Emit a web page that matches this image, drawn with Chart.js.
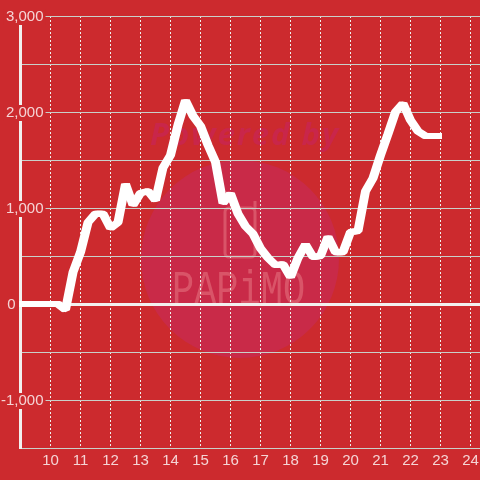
<!DOCTYPE html>
<html>
<head>
<meta charset="utf-8">
<style>
  html, body { margin: 0; padding: 0; background: #cc2a2e; }
  canvas { display: block; }
</style>
<script src="https://cdn.jsdelivr.net/npm/chart.js@4"></script>
</head>
<body>
<canvas id="chart" width="480" height="480"></canvas>
<script>
const hours = [
    9, 9.25, 9.5, 9.75, 10, 10.25, 10.5, 10.75,
    11, 11.25, 11.5, 11.75, 12, 12.25, 12.5, 12.75,
    13, 13.25, 13.5, 13.75, 14, 14.25, 14.5, 14.75,
    15, 15.25, 15.5, 15.75, 16, 16.25, 16.5, 16.75,
    17, 17.25, 17.5, 17.75, 18, 18.25, 18.5, 18.75,
    19, 19.25, 19.5, 19.75, 20, 20.25, 20.5, 20.75,
    21, 21.25, 21.5, 21.75, 22, 22.25, 22.5, 22.75, 23,
];
const values = [
    0, 0, 0, 0, 0, 0, -60, 330,
    540, 850, 940, 940, 790, 850, 1250, 1030,
    1155, 1175, 1080, 1420, 1550, 1865, 2120, 1960,
    1855, 1655, 1480, 1050, 1150, 940, 810, 730,
    580, 480, 405, 415, 280, 480, 620, 490,
    500, 700, 540, 540, 750, 760, 1175, 1310,
    1550, 1770, 2000, 2090, 1915, 1800, 1750, 1750, 1750,
];
const labelledTicks = [3000, 2000, 1000, 0, -1000];

const bgColor = '#cc2a2e';
const textColor = 'rgba(255,255,255,0.8)';

// watermark sits under the grid
const watermark = {
    id: 'watermark',
    beforeDraw(chart) {
        const ctx = chart.ctx;
        ctx.save();
        ctx.fillStyle = bgColor;
        ctx.fillRect(0, 0, chart.width, chart.height);

        ctx.fillStyle = '#c92a48';
        ctx.beginPath();
        ctx.arc(240, 259, 99, 0, Math.PI * 2);
        ctx.fill();

        ctx.fillStyle = '#c9264a';
        ctx.font = 'italic bold 31px "Open Sans"';
        ctx.letterSpacing = '2px';
        ctx.textAlign = 'left';
        ctx.fillText('Powered by', 150, 145);
        ctx.letterSpacing = '0px';

        ctx.strokeStyle = '#d95468';
        ctx.lineWidth = 3;
        ctx.beginPath();
        ctx.roundRect(225, 208, 30, 49, 4);
        ctx.moveTo(255, 208);
        ctx.lineTo(255, 201);
        ctx.stroke();

        ctx.fillStyle = '#d95468';
        ctx.translate(172, 304);
        ctx.scale(0.77, 1);
        ctx.font = '48px "Liberation Mono"';
        ctx.fillText('PAPiMO', 0, 0);
        ctx.restore();

        // y labels sit a pixel lower than Chart.js puts them
        chart.scales.y.getLabelItems().forEach((item) => {
            item.options.translation[1] += 1;
        });
    },
};

// the original pen is wider than it is tall, so stroke the line again either side
const widePen = {
    id: 'widePen',
    afterDatasetsDraw(chart) {
        const line = chart.getDatasetMeta(0).dataset;
        [-1.5, 1.5].forEach((dx) => {
            chart.ctx.save();
            chart.ctx.translate(dx, 0);
            line.draw(chart.ctx, chart.chartArea);
            chart.ctx.restore();
        });
    },
};

new Chart(document.getElementById('chart'), {
    type: 'line',
    data: {
        datasets: [
            {
                data: hours.map((h, i) => ({ x: h, y: values[i] })),
                borderColor: '#ffffff',
                borderWidth: 6,
                borderCapStyle: 'butt',
                borderJoinStyle: 'bevel',
                pointRadius: 0,
                tension: 0,
                fill: false,
                clip: false,
            },
        ],
    },
    options: {
        responsive: false,
        animation: false,
        layout: { padding: { top: 16 } },
        plugins: {
            legend: { display: false },
            tooltip: { enabled: false },
        },
        scales: {
            x: {
                type: 'linear',
                min: 9,
                max: 24.317,
                afterFit: (scale) => {
                    scale.height = 32;
                    scale.paddingLeft = 0;
                    scale.paddingRight = 0;
                },
                afterBuildTicks: (scale) => {
                    scale.ticks = scale.ticks.filter((t) => t.value >= 10 && t.value <= 24);
                },
                ticks: {
                    stepSize: 1,
                    includeBounds: false,
                    autoSkip: false,
                    maxRotation: 0,
                    padding: 4,
                    color: textColor,
                    font: { family: '"Liberation Sans"', size: 15 },
                },
                grid: { color: '#eef2ee', lineWidth: 1, drawTicks: false },
                border: { color: '#c9d0ca', width: 1, dash: [2, 2] },
            },
            y: {
                min: -1500,
                max: 3000,
                afterFit: (scale) => { scale.width = 20.5; },
                ticks: {
                    stepSize: 500,
                    mirror: true,
                    crossAlign: 'far',
                    padding: -19.5,
                    color: textColor,
                    font: { family: '"Liberation Sans"', size: 15, lineHeight: '16px' },
                    showLabelBackdrop: true,
                    backdropPadding: { top: 0, bottom: 0, left: 2, right: 2 },
                    backdropColor: (ctx) => (labelledTicks.includes(ctx.tick.value) && ctx.tick.value !== 0 ? bgColor : 'rgba(0,0,0,0)'),
                    callback: (v) => {
                        if (!labelledTicks.includes(v)) return '';
                        // the 0 label sits left of the axis line in the original
                        return v === 0 ? '0\u00a0\u00a0\u00a0\u00a0\u00a0\u00a0\u2009' : v.toLocaleString('en-US');
                    },
                },
                grid: {
                    color: (ctx) => (ctx.tick.value === 0 ? '#f2f0ef' : '#c9d0ca'),
                    lineWidth: (ctx) => (ctx.tick.value === 0 ? 3 : 1),
                    drawTicks: false,
                },
                border: { color: '#f2f0ef', width: 3 },
            },
        },
    },
    plugins: [watermark, widePen],
});
</script>
</body>
</html>
